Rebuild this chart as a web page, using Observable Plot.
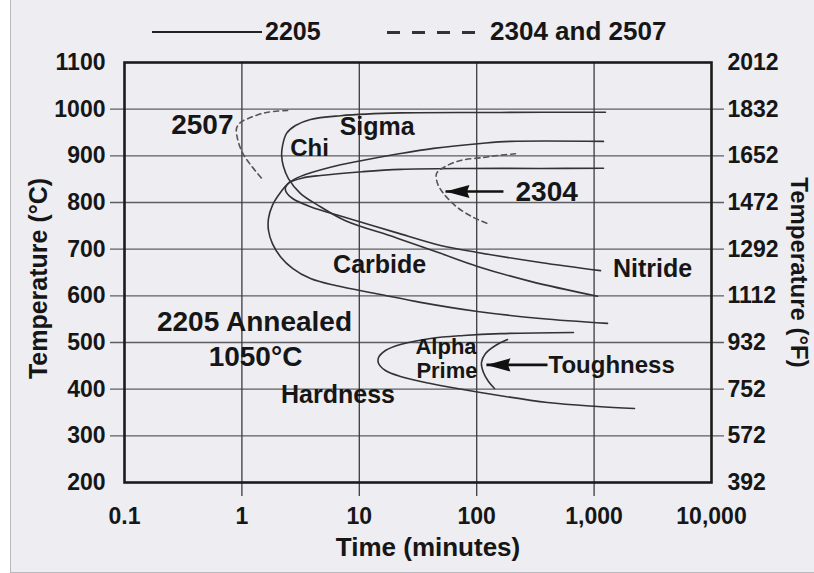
<!DOCTYPE html>
<html>
<head>
<meta charset="utf-8">
<script src="https://cdn.jsdelivr.net/npm/d3@7"></script>
<script src="https://cdn.jsdelivr.net/npm/@observablehq/plot@0.6"></script>
<style>
  html, body { margin: 0; padding: 0; background: #ffffff; }
  #wrap { position: relative; width: 814px; height: 573px; overflow: hidden;
          font-family: "Liberation Sans", Arial, sans-serif; color: #161616; }
  #panel { position: absolute; left: 10px; top: -2px; width: 812px; height: 575px;
           background: #EDEDF2; border-left: 1px solid #b8b8bf; border-bottom: 1px solid #b8b8bf;
           box-sizing: border-box; }
  #legend { position: relative; height: 46px; }
  #legend .sw-solid { position: absolute; left: 152px; top: 31px; width: 110px; height: 0;
                      border-top: 2.5px solid #222; }
  #legend .sw-dash { position: absolute; left: 387px; top: 31px; width: 100px; height: 2.5px;
                     background: repeating-linear-gradient(to right, #333 0 13px, transparent 13px 25px); }
  #legend .lab { position: absolute; top: 19px; font-size: 25px; line-height: 25px; font-weight: bold;
                 white-space: nowrap; }
  #chart { position: relative; }
</style>
</head>
<body>
<div id="wrap">
  <div id="panel"></div>
  <div id="legend">
    <div class="sw-solid"></div><span class="lab" style="left:265px">2205</span>
    <div class="sw-dash"></div><span class="lab" style="left:490px;font-size:26px">2304 and 2507</span>
  </div>
  <div id="chart"></div>
</div>
<script>
// ---- axes / ticks ----
const xTicks = [0.1, 1, 10, 100, 1000, 10000];
const xTickLabels = ["0.1", "1", "10", "100", "1,000", "10,000"];
const xGrid = [1, 10, 100, 1000];
const yTicks = [200, 300, 400, 500, 600, 700, 800, 900, 1000, 1100];
const yTickLabels = ["200", "300", "400", "500", "600", "700", "800", "900", "1000", "1100"];
const fTickLabels = ["392", "572", "752", "932", "1112", "1292", "1472", "1652", "1832", "2012"];
const yGrid = [300, 400, 500, 600, 700, 800, 900, 1000];
const xTitle = "Time (minutes)";
const yTitleLeft = "Temperature (°C)";
const yTitleRight = "Temperature (°F)";

// ---- curves: [time (minutes), temperature (°C)] ----
const sigmaCurve = [[1250,993.5],[159.5,993],[22.4,992],[6.92,986],[3.84,978],[2.86,965],[2.40,948],
  [2.22,922],[2.18,901],[2.26,877],[2.49,851],[3.16,819],[4.67,791],[7.63,761],[20.3,725],
  [49.2,691],[101.6,663],[287,631],[1069,599]];
const carbideCurve = [[1202,931],[194,931],[108,926.5],[42.9,916],[22.4,905],[10.6,890],[5.57,875],
  [3.16,856],[2.54,843],[2.13,821.5],[1.82,794],[1.685,766],[1.685,740],[1.82,712],[2.13,684],
  [2.70,659],[3.84,637],[6.27,622],[15.2,603],[33.2,586],[101.6,566.5],[349,551.5],[1300,541]];
const nitrideCurve = [[1202,873.5],[349,873],[75.7,873],[22.4,871],[10.65,866],[4.67,858],[3.28,852.5],
  [2.54,843],[2.35,832],[2.39,821.5],[2.70,808.6],[3.84,791],[7.63,768],[20.3,736],[49.2,708],
  [101.6,693],[349,671.5],[1134,654]];
const hardnessCurve = [[667.5,521.4],[159.5,519],[77.2,515],[40.4,508.6],[22.4,495.7],[16.7,482.9],
  [14.6,467.9],[14.6,455],[16.7,440],[22.4,427.1],[40.4,412.1],[107.8,392.9],[401,371.4],
  [1069,362.9],[2208,358.6]];
const toughnessCurve = [[183,506.4],[144.6,493.6],[118.9,476.4],[109.8,457.1],[114.2,435.7],
  [126,416.4],[141.8,401.4]];
const curve2507 = [[2.45,997],[1.62,993],[1.18,982],[0.973,971.4],[0.90,958.6],[0.917,937],
  [1.01,907],[1.18,881.4],[1.53,847]];
const curve2304 = [[214,904.4],[150.4,900.7],[114.2,896.4],[72.8,890],[52.2,875],[45.5,862],
  [46.4,840.7],[52.2,819.3],[68.6,789.3],[93.9,767.9],[123.6,755]];

// ---- annotations ----
const labelTexts = ["2507", "Sigma", "Chi", "2304", "Carbide", "Nitride", "2205 Annealed", "1050°C",
  "Hardness", "Alpha", "Prime", "Toughness"];
const labelTimes = [0.848, 14.2, 3.77, 214, 14.9, 3143, 1.28, 1.306, 6.59, 54.8, 55.8, 409];
const labelTemps = [965, 961, 917, 822.5, 667, 656.5, 544, 468, 386.5, 490, 440, 452];
const labelSizes = [28, 25, 24, 28, 25, 25, 28, 28, 25, 22, 22, 24];
const labelAnchors = ["end", "middle", "middle", "start", "middle", "middle", "middle", "middle",
  "middle", "middle", "middle", "start"];

// arrows: tail time, tip time, temperature
const arrowTails = [169, 401];
const arrowTips = [54.2, 121];
const arrowTemps = [823.6, 452];

// ---- build tables ----
const curveDefs = [
  {name: "sigma", alloy: "2205", pts: sigmaCurve},
  {name: "carbide", alloy: "2205", pts: carbideCurve},
  {name: "nitride", alloy: "2205", pts: nitrideCurve},
  {name: "hardness", alloy: "2205", pts: hardnessCurve},
  {name: "toughness", alloy: "2205", pts: toughnessCurve},
  {name: "c2507", alloy: "2304/2507", pts: curve2507},
  {name: "c2304", alloy: "2304/2507", pts: curve2304}
];
const lineRows = curveDefs.flatMap(c => c.pts.map(([t, T]) => ({series: c.name, alloy: c.alloy, t, T})));
const labels = labelTexts.map((text, i) => ({text, t: labelTimes[i], T: labelTemps[i], size: labelSizes[i], anchor: labelAnchors[i]}));
const arrows = arrowTails.map((tail, i) => ({tail, tip: arrowTips[i], T: arrowTemps[i]}));

const arrowHead = {
  draw(ctx, size) {
    const s = Math.sqrt(size / Math.PI);
    ctx.moveTo(0, 0);
    ctx.lineTo(2 * s, -0.55 * s);
    ctx.lineTo(1.8 * s, 0);
    ctx.lineTo(2 * s, 0.55 * s);
    ctx.closePath();
  }
};

const font = "'Liberation Sans', Arial, Helvetica, sans-serif";
const ink = "#161616";
const textMarks = ["start", "middle", "end"].map(a =>
  Plot.text(labels.filter(d => d.anchor === a), {
    x: "t", y: "T", text: "text", fontSize: "size", textAnchor: a, lineAnchor: "middle",
    fontWeight: "bold", fill: ink, fontFamily: font
  }));

const chart = Plot.plot({
  width: 814,
  height: 527,
  marginTop: 16,
  marginBottom: 91,
  marginLeft: 124,
  marginRight: 103,
  style: {background: "transparent", fontFamily: font, color: ink, overflow: "visible"},
  x: {type: "log", domain: [0.1, 10000]},
  y: {domain: [200, 1100]},
  marks: [
    Plot.ruleY(yGrid, {stroke: "#5e5e62", strokeWidth: 1.3, insetLeft: -14, insetRight: -13}),
    Plot.ruleX(xGrid, {stroke: "#3c3c40", strokeWidth: 1.3, insetBottom: -14}),
    Plot.line(lineRows.filter(d => d.alloy === "2205"), {
      x: "t", y: "T", z: "series", curve: "catmull-rom", stroke: "#333", strokeWidth: 1.6
    }),
    Plot.line(lineRows.filter(d => d.alloy !== "2205"), {
      x: "t", y: "T", z: "series", curve: "catmull-rom", stroke: "#555", strokeWidth: 1.6,
      strokeDasharray: "5,4"
    }),
    Plot.link(arrows, {x1: "tail", x2: "tip", y1: "T", y2: "T", stroke: "#111", strokeWidth: 2.6}),
    Plot.dot(arrows, {x: "tip", y: "T", r: 12, symbol: arrowHead, fill: "#111", stroke: "none"}),
    ...textMarks,
    Plot.frame({stroke: "#1b1b1b", strokeWidth: 2.6}),
    Plot.axisX({
      ticks: xTicks, tickFormat: d => xTickLabels[xTicks.indexOf(d)], tickSize: 0, tickPadding: 25,
      fontSize: 23, fontWeight: "bold", fill: ink, label: null
    }),
    Plot.axisY({
      anchor: "left", ticks: yTicks, tickFormat: d => yTickLabels[yTicks.indexOf(d)], tickSize: 0,
      tickPadding: 19, fontSize: 23, fontWeight: "bold", fill: ink, label: null
    }),
    Plot.axisY({
      anchor: "right", ticks: yTicks, tickFormat: d => fTickLabels[yTicks.indexOf(d)], tickSize: 0,
      tickPadding: 16, fontSize: 23, fontWeight: "bold", fill: ink, label: null
    }),
    Plot.text([xTitle], {text: d => d, frameAnchor: "bottom", textAnchor: "middle", lineAnchor: "middle",
      dy: 65, dx: 10, fontSize: 26, fontWeight: "bold", fill: ink}),
    Plot.text([yTitleLeft], {text: d => d, frameAnchor: "left", textAnchor: "middle", rotate: -90,
      lineAnchor: "middle", dx: -86, dy: 6, fontSize: 25, fontWeight: "bold", fill: ink}),
    Plot.text([yTitleRight], {text: d => d, frameAnchor: "right", textAnchor: "middle", rotate: 90,
      lineAnchor: "middle", dx: 87, dy: 0, fontSize: 24, fontWeight: "bold", fill: ink})
  ]
});
document.getElementById("chart").appendChild(chart);
</script>
</body>
</html>
